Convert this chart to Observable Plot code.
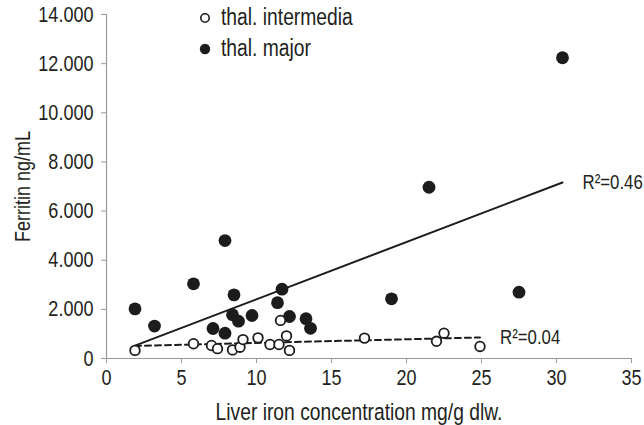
<!DOCTYPE html>
<html>
<head>
<meta charset="utf-8">
<script src="https://cdn.jsdelivr.net/npm/d3@7"></script>
<script src="https://cdn.jsdelivr.net/npm/@observablehq/plot@0.6"></script>
<style>
  body { margin: 0; background: #fff; }
  #chart {
    position: relative; width: 644px; height: 425px;
    font-family: "Liberation Sans", Arial, sans-serif;
    color: #231f20;
  }
  .legend { position: absolute; left: 199px; top: 2px; font-size: 23.5px; }
  .legend div { display: flex; align-items: center; height: 31px; white-space: nowrap; }
  .legend svg { margin-right: 10px; flex: none; }
  .legend span { display: inline-block; transform: scaleX(0.82); transform-origin: left center; }
</style>
</head>
<body>
<div id="chart"></div>
<script>
// Liver iron concentration (mg/g dry liver weight) and serum ferritin (ng/mL)
const majorLic = [1.9, 3.2, 5.8, 7.9, 7.1, 7.9, 8.5, 8.4, 8.8, 9.7, 11.7, 11.4, 12.2, 13.3, 13.6, 19.0, 21.5, 27.5, 30.4];
const majorFerritin = [2020, 1320, 3040, 4800, 1220, 1030, 2590, 1780, 1520, 1750, 2820, 2270, 1710, 1620, 1230, 2430, 6970, 2700, 12240];

const intermediaLic = [1.9, 5.8, 7.0, 7.4, 8.4, 8.9, 9.1, 10.1, 10.9, 11.5, 11.6, 12.0, 12.2, 17.2, 22.0, 22.5, 24.9];
const intermediaFerritin = [330, 600, 530, 400, 350, 460, 770, 840, 570, 570, 1550, 920, 330, 830, 700, 1030, 490];

const seriesNames = ["thal. intermedia", "thal. major"];
const fitLabels = ["R²=0.04", "R²=0.46"];

const xTicks = [0, 5, 10, 15, 20, 25, 30, 35];
const yTicks = [0, 2000, 4000, 6000, 8000, 10000, 12000, 14000];

const toRows = (xs, ys) => xs.map((x, i) => ({lic: x, ferritin: ys[i]}));
const major = toRows(majorLic, majorFerritin);
const intermedia = toRows(intermediaLic, intermediaFerritin);

// End point of the least-squares line, where its R² label sits
function fitEnd(rows, label) {
  const mx = d3.mean(rows, d => d.lic), my = d3.mean(rows, d => d.ferritin);
  const sxy = d3.sum(rows, d => (d.lic - mx) * (d.ferritin - my));
  const sxx = d3.sum(rows, d => (d.lic - mx) ** 2);
  const b = sxy / sxx, a = my - b * mx;
  const x = d3.max(rows, d => d.lic);
  return {lic: x, ferritin: a + b * x, label};
}
const fitEnds = [fitEnd(intermedia, fitLabels[0]), fitEnd(major, fitLabels[1])];

const euro = d3.formatLocale({decimal: ",", thousands: ".", grouping: [3], currency: ["", ""]});
const fmtThousands = euro.format(",d");

const axisGray = "#9a9a9a";
const ink = "#1c1c1c";

const chart = Plot.plot({
  width: 644,
  height: 425,
  marginLeft: 106,
  marginRight: 13,
  marginTop: 14,
  marginBottom: 67,
  x: {domain: [0, 35]},
  y: {domain: [0, 14000]},
  style: {
    fontFamily: "\"Liberation Sans\", Arial, sans-serif",
    fontSize: "19.5px",
    color: "#231f20",
    background: "white",
    overflow: "visible"
  },
  marks: [
    Plot.ruleY([0], {stroke: axisGray, strokeWidth: 1.2}),
    Plot.ruleX([0], {stroke: axisGray, strokeWidth: 1.2}),
    Plot.axisY({
      ticks: yTicks, tickFormat: fmtThousands, tickSize: 5, tickPadding: 8,
      stroke: axisGray, fontSize: 19.5,
      label: "Ferritin ng/mL", labelAnchor: "center", labelArrow: "none", labelOffset: 92
    }),
    Plot.axisX({
      ticks: xTicks, tickSize: 5, tickPadding: 6,
      stroke: axisGray, fontSize: 19.5,
      label: "Liver iron concentration mg/g dlw.", labelAnchor: "center", labelArrow: "none", labelOffset: 61
    }),
    Plot.linearRegressionY(intermedia, {x: "lic", y: "ferritin", ci: 0, stroke: ink, strokeWidth: 2, strokeDasharray: "6,4"}),
    Plot.linearRegressionY(major, {x: "lic", y: "ferritin", ci: 0, stroke: ink, strokeWidth: 2}),
    Plot.dot(major, {x: "lic", y: "ferritin", r: 6.4, fill: ink, stroke: "none"}),
    Plot.dot(intermedia, {x: "lic", y: "ferritin", r: 4.8, fill: "white", stroke: ink, strokeWidth: 1.8}),
    Plot.text(fitEnds, {x: "lic", y: "ferritin", text: "label", dx: 20, textAnchor: "start", fontSize: 20.5, fill: "#231f20"})
  ]
});

// Condensed lettering: narrow every label horizontally about its own anchor
const SQUEEZE = 0.82;
chart.querySelectorAll("text").forEach(t => {
  const x = parseFloat(t.getAttribute("x")) || 0;
  const tr = t.getAttribute("transform") || "";
  t.setAttribute("transform", `${tr} translate(${x},0) scale(${SQUEEZE},1) translate(${-x},0)`);
});
// Axis titles a touch larger than tick labels; the x title sits slightly left of centre
chart.querySelectorAll("[aria-label$='label'] text").forEach(t => t.setAttribute("font-size", "22"));
const xTitle = chart.querySelector("[aria-label='x-axis label'] text");
if (xTitle) {
  xTitle.setAttribute("font-size", "23.5");
  xTitle.setAttribute("transform", `translate(-10,0) ${xTitle.getAttribute("transform")}`);
}

const root = document.getElementById("chart");
root.appendChild(chart);

// Legend in the upper part of the plot area
const legend = document.createElement("div");
legend.className = "legend";
legend.innerHTML = `
  <div><svg width="12" height="12"><circle cx="6" cy="6" r="4.2" fill="white" stroke="${ink}" stroke-width="1.6"/></svg><span>${seriesNames[0]}</span></div>
  <div><svg width="12" height="12"><circle cx="6" cy="6" r="5.2" fill="${ink}"/></svg><span>${seriesNames[1]}</span></div>`;
root.appendChild(legend);
</script>
</body>
</html>
